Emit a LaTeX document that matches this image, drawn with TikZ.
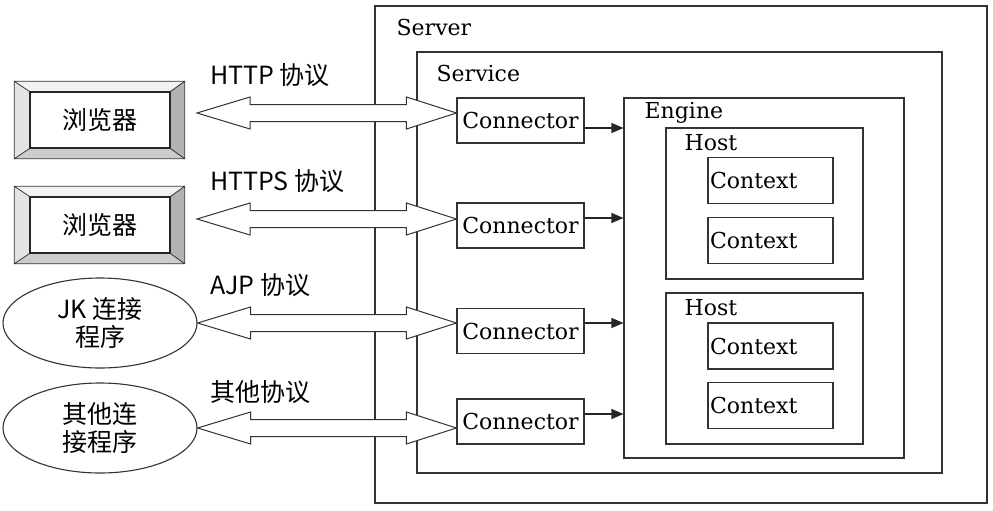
\documentclass[tikz,border=0pt]{standalone}
\usepackage{fontspec}
\setmainfont{DejaVu Serif}
\newfontfamily\cjk{Noto Sans CJK SC}
\usetikzlibrary{positioning,calc,shapes.geometric,arrows.meta}
\tikzset{frame/.style={draw=black!80,line width=1.1pt,inner sep=0pt},
        box/.style={draw=black!80,line width=1.1pt,fill=white,inner sep=1pt,
        font=\fontsize{22}{24}\selectfont},
        ctx/.style={box,minimum width=125pt,minimum height=46pt,text width=121pt,align=left},
        conn/.style={box,minimum width=127pt,minimum height=45pt},
        lbl/.style={anchor=west,inner sep=0pt,font=\fontsize{22}{24}\selectfont},
        proto/.style={anchor=west,inner sep=0pt,font=\cjk\fontsize{25}{27}\selectfont},
        browser/.style={draw=black!85,line width=1.4pt,fill=white,minimum width=140pt,
        minimum height=56pt,font=\cjk\fontsize{25}{27}\selectfont},
        client/.style={ellipse,draw=black!80,line width=1.1pt,fill=white,minimum width=194pt,
        minimum height=90pt,inner sep=0pt,align=center,font=\cjk\fontsize{25}{28}\selectfont},
        pipe/.style={draw=black!80,line width=1pt,fill=white,line join=miter},
        flow/.style={draw=black!85,line width=1.1pt,-{Triangle[length=12pt,width=10pt]}}}
\newcommand{\bevelbox}[1]{%
  \coordinate (#1-a) at ($(#1.north west)+(-15,-10)$);
  \coordinate (#1-b) at ($(#1.north east)+(14,-10)$);
  \coordinate (#1-c) at ($(#1.south east)+(14,10)$);
  \coordinate (#1-d) at ($(#1.south west)+(-15,10)$);
  \fill[gray!10] (#1-a) -- (#1-b) -- (#1.north east) -- (#1.north west) -- cycle;
  \fill[gray!22] (#1-a) -- (#1.north west) -- (#1.south west) -- (#1-d) -- cycle;
  \fill[gray!60] (#1-b) -- (#1-c) -- (#1.south east) -- (#1.north east) -- cycle;
  \fill[gray!40] (#1-d) -- (#1.south west) -- (#1.south east) -- (#1-c) -- cycle;
  \draw[black!80,line width=0.8pt] (#1-a) rectangle (#1-c)
     (#1-a) -- (#1.north west) (#1-b) -- (#1.north east)
     (#1-c) -- (#1.south east) (#1-d) -- (#1.south west);
  \draw[black!85,line width=1.4pt] (#1.north west) rectangle (#1.south east);}
\newcommand{\pipearrow}[2]{% #1 left tip, #2 right tip
  \draw[pipe] (#1) -- ($(#1)+(53,-16)$) -- ($(#1)+(53,-8.5)$) -- ($(#2)+(-50,-8.5)$)
     -- ($(#2)+(-50,-16)$) -- (#2) -- ($(#2)+(-50,16)$) -- ($(#2)+(-50,8.5)$)
     -- ($(#1)+(53,8.5)$) -- ($(#1)+(53,16)$) -- cycle;}

\begin{document}
\begin{tikzpicture}[x=1pt,y=-1pt]
  \useasboundingbox (0,0) rectangle (993,511);
  % containers
  \node[frame,minimum width=612pt,minimum height=497pt] (server) at (681,254.5) {};
  \node[lbl] (serverlbl) at ($(server.north west)+(22,22)$) {Server};
  \node[frame,minimum width=525pt,minimum height=421pt] (service) at (679.5,262.5) {};
  \node[lbl] (servicelbl) at ($(service.north west)+(20,22)$) {Service};
  \node[frame,minimum width=280pt,minimum height=360pt] (engine) at (764,278) {};
  \node[lbl] (enginelbl) at ($(engine.north west)+(21,15)$) {Engine};
  \node[frame,minimum width=197pt,minimum height=151pt] (host1) at (764.5,203.5) {};
  \node[lbl] (host1lbl) at ($(host1.north west)+(19,15)$) {Host};
  \node[frame,minimum width=197pt,minimum height=151pt] (host2) at (764.5,368.5) {};
  \node[lbl] (host2lbl) at ($(host2.north west)+(19,15)$) {Host};
  \node[ctx] (ctx1) at (770.5,180.5) {Context};
  \node[ctx] (ctx2) at (770.5,240.5) {Context};
  \node[ctx] (ctx3) at (770.5,346) {Context};
  \node[ctx] (ctx4) at (770.5,405.5) {Context};
  % connectors
  \node[conn] (c1) at (520.5,120.5) {Connector};
  \node[conn] (c2) at (520.5,225.5) {Connector};
  \node[conn] (c3) at (520.5,331) {Connector};
  \node[conn] (c4) at (520.5,421.5) {Connector};
  \foreach \i/\dy in {1/7.5,2/-7.5,3/-8,4/-7.5}
    \draw[flow] ($(c\i.east)+(0,\dy)$) -- ($(c\i.east -| engine.west)+(0,\dy)$);
  % clients
  \node[browser] (b1) at (100,120) {浏览器};
  \bevelbox{b1}
  \node[browser] (b2) at (100,225) {浏览器};
  \bevelbox{b2}
  \node[client] (jk) at (100,323) {JK 连接\\程序};
  \node[client] (other) at (100,428) {其他连\\接程序};
  % protocols
  \coordinate (l1) at (197,113);
  \coordinate (l2) at (197,219);
  \coordinate (l3) at (jk.east);
  \coordinate (l4) at (other.east);
  \foreach \i in {1,...,4}{
    \coordinate (r\i) at (c\i.west |- l\i);
    \pipearrow{l\i}{r\i}}
  \node[proto] (http) at (210,75) {HTTP 协议};
  \node[proto] (https) at (210,181) {HTTPS 协议};
  \node[proto] (ajp) at (210,285) {AJP 协议};
  \node[proto] (misc) at (210,392) {其他协议};
\end{tikzpicture}
\end{document}
